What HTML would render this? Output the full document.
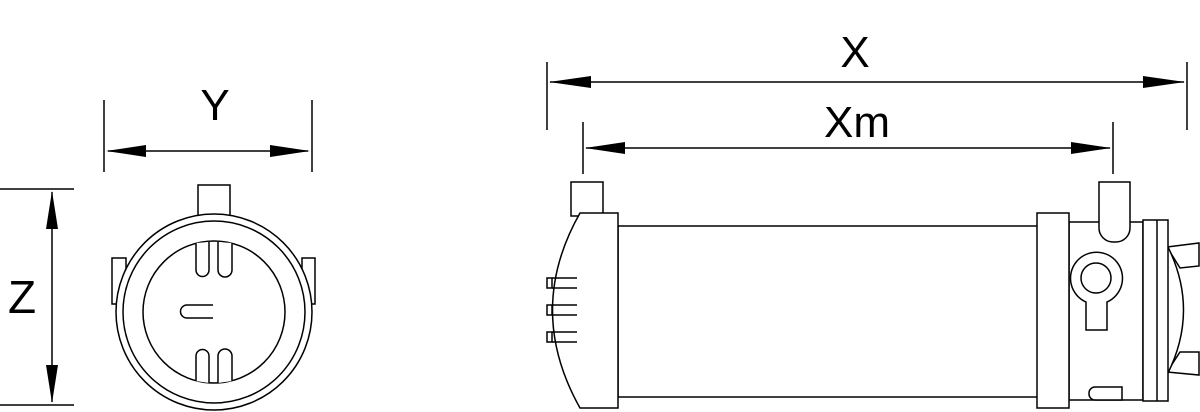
<!DOCTYPE html>
<html><head><meta charset="utf-8"><style>
html,body{margin:0;padding:0;background:#fff;}
svg{display:block}
text{font-family:"Liberation Sans",sans-serif;fill:#000}
</style></head><body>
<svg width="1200" height="412" viewBox="0 0 1200 412" xmlns="http://www.w3.org/2000/svg">
<g fill="none" stroke="#000" stroke-width="1.5">
<!-- Z dimension -->
<line x1="0" y1="189" x2="74" y2="189"/>
<line x1="0" y1="405" x2="74" y2="405"/>
<line x1="52" y1="192" x2="52" y2="402"/>
<!-- Y dimension -->
<line x1="104" y1="100" x2="104" y2="172"/>
<line x1="312" y1="100" x2="312" y2="172"/>
<line x1="108" y1="151" x2="308" y2="151"/>
<!-- X dimension -->
<line x1="547" y1="62" x2="547" y2="130"/>
<line x1="1187" y1="62" x2="1187" y2="130"/>
<line x1="550" y1="82" x2="1184" y2="82"/>
<!-- Xm dimension -->
<line x1="583" y1="122" x2="583" y2="174"/>
<line x1="1113" y1="122" x2="1113" y2="174"/>
<line x1="586" y1="148" x2="1110" y2="148"/>
</g>
<g fill="#000">
<polygon points="52,191 46,229 58,229"/>
<polygon points="52,403 46,365 58,365"/>
<polygon points="106,151 146,145 146,157"/>
<polygon points="310,151 270,145 270,157"/>
<polygon points="549,82 591,76 591,88"/>
<polygon points="1185,82 1143,76 1143,88"/>
<polygon points="585,148 625,142 625,154"/>
<polygon points="1111,148 1071,142 1071,154"/>
</g>
<text x="8" y="313" font-size="46">Z</text>
<text x="215" y="120" font-size="44" text-anchor="middle">Y</text>
<text x="855" y="67" font-size="44" text-anchor="middle">X</text>
<text x="857" y="137" font-size="44" text-anchor="middle">Xm</text>

<!-- End view -->
<g fill="#fff" stroke="#000" stroke-width="1.5">
<rect x="198" y="185" width="32" height="32"/>
<rect x="112" y="258" width="14" height="46"/>
<rect x="302" y="258" width="13" height="46"/>
<circle cx="214" cy="312" r="98"/>
<circle cx="214" cy="312" r="91"/>
<circle cx="214" cy="312" r="71"/>
<path d="M196,243 V270 A6.5,6.5 0 0 0 209,270 V242"/>
<path d="M218,242 V270 A7,7 0 0 0 232,270 V243"/>
<path d="M196,381 V356 A6.5,6.5 0 0 1 209,356 V383"/>
<path d="M218,383 V356 A7,7 0 0 1 232,356 V381"/>
<path d="M213,305 H187 A6.5,6.5 0 0 0 187,318 H213"/>
</g>

<!-- Side view -->
<g fill="#fff" stroke="#000" stroke-width="1.5">
<rect x="571" y="182" width="32" height="34"/>
<rect x="618" y="226" width="420" height="171"/>
<path d="M580,213 H618 V408 H580 Q525,310 580,213 Z"/>
<rect x="547" y="278" width="5" height="10"/>
<rect x="547" y="305" width="5" height="10"/>
<rect x="547" y="332" width="5" height="10"/>
<line x1="552" y1="278" x2="577" y2="278"/><line x1="552" y1="288" x2="577" y2="288"/>
<line x1="552" y1="305" x2="577" y2="305"/><line x1="552" y1="315" x2="577" y2="315"/>
<line x1="552" y1="332" x2="577" y2="332"/><line x1="552" y1="342" x2="577" y2="342"/>

<rect x="1069" y="222" width="74" height="178"/>
<rect x="1037" y="213" width="32" height="195"/>
<path d="M1099,222 V182 H1130 V228 A14,14 0 0 1 1116,242 H1113 A14,14 0 0 1 1099,228 Z"/>
<path d="M1167,247 L1199,243 L1199,266 L1180,268 Z"/>
<path d="M1167,372 L1199,375 L1199,352 L1180,352 Z"/>
<path d="M1167,245 Q1200,310 1167,375"/>
<rect x="1143" y="220" width="25" height="181"/>
<line x1="1157" y1="220" x2="1157" y2="401"/>
<path d="M1086,302 A26,26 0 1 1 1107,302 V330 H1086 Z"/>
<circle cx="1096" cy="278" r="15"/>
<path d="M1095,387 H1122 V400 H1095 A6,6 0 0 1 1089,394 V393 A6,6 0 0 1 1095,387 Z"/>
</g>
</svg>
</body></html>
